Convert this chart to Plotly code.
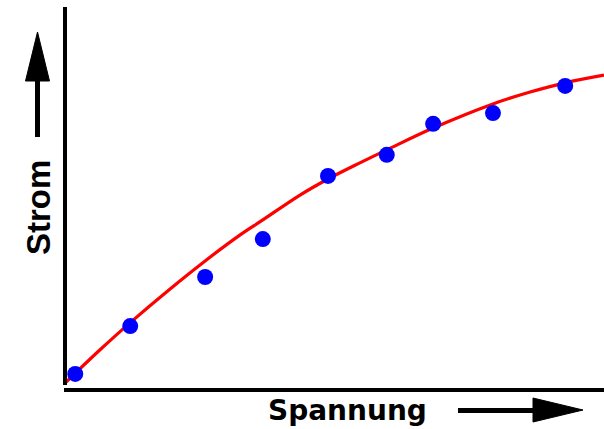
import plotly.graph_objects as go

# Measured points (Spannung, Strom) in arbitrary units
spannung = [0.19, 1.21, 2.60, 3.67, 4.88, 5.97, 6.83, 7.94, 9.28]
strom = [0.42, 1.67, 2.95, 3.94, 5.59, 6.14, 6.95, 7.23, 7.94]

# Fitted curve
kurve_x = [0.0, 0.65, 1.21, 1.95, 2.60, 3.25, 3.67, 4.36, 4.88, 5.47, 5.97, 6.83, 7.94, 8.63, 9.28, 10.0]
kurve_y = [0.18, 1.05, 1.76, 2.64, 3.37, 4.05, 4.44, 5.09, 5.51, 5.93, 6.27, 6.84, 7.47, 7.78, 8.02, 8.22]

W, H = 604, 429
L, R, T, B = 65, 0, 7, 39
pw, ph = W - L - R, H - T - B


def px(x):
    return (x - L) / pw


def py(y):
    return (H - B - y) / ph


fig = go.Figure()
fig.add_trace(go.Scatter(x=kurve_x, y=kurve_y, mode="lines",
                         line=dict(color="#ff0000", width=3.2, shape="spline"),
                         hoverinfo="skip"))
fig.add_trace(go.Scatter(x=spannung, y=strom, mode="markers",
                         marker=dict(color="#0000ff", size=16)))

shapes = [
    # axes
    dict(type="line", xref="paper", yref="paper", x0=0, x1=0, y0=py(385), y1=py(7),
         line=dict(color="black", width=4)),
    dict(type="line", xref="paper", yref="paper", x0=px(64), x1=px(604), y0=py(390), y1=py(390),
         line=dict(color="black", width=4)),
    # up arrow
    dict(type="line", xref="paper", yref="paper", x0=px(37.5), x1=px(37.5), y0=py(137), y1=py(78),
         line=dict(color="black", width=5)),
    dict(type="path", xref="paper", yref="paper",
         path=f"M {px(25.5)} {py(81)} L {px(49.5)} {py(81)} L {px(37.5)} {py(32)} Z",
         fillcolor="black", line=dict(color="black", width=1)),
    # right arrow
    dict(type="line", xref="paper", yref="paper", x0=px(458), x1=px(536), y0=py(410.5), y1=py(410.5),
         line=dict(color="black", width=5)),
    dict(type="path", xref="paper", yref="paper",
         path=f"M {px(533)} {py(398)} L {px(533)} {py(422)} L {px(583)} {py(410)} Z",
         fillcolor="black", line=dict(color="black", width=1)),
]

annotations = [
    dict(text="<b>Strom</b>", xref="paper", yref="paper", x=px(38), y=py(208),
         textangle=-90, showarrow=False, xanchor="center", yanchor="middle",
         font=dict(family="Liberation Sans, Arial, sans-serif", size=33, color="black")),
    dict(text="<b>Spannung</b>", xref="paper", yref="paper", x=px(347.5), y=py(410),
         showarrow=False, xanchor="center", yanchor="middle",
         font=dict(family="DejaVu Sans, sans-serif", size=28, color="black")),
]

fig.update_layout(
    width=W, height=H,
    margin=dict(l=L, r=R, t=T, b=B, pad=0),
    paper_bgcolor="white", plot_bgcolor="white",
    showlegend=False,
    xaxis=dict(range=[0, 10], showgrid=False, zeroline=False, showticklabels=False,
               showline=False, ticks=""),
    yaxis=dict(range=[0, 10], showgrid=False, zeroline=False, showticklabels=False,
               showline=False, ticks=""),
    shapes=shapes,
    annotations=annotations,
)

fig.write_html(
    "out.html",
    config={"displayModeBar": False},
    post_script="document.body.style.margin='0';document.body.style.padding='0';"
                "document.body.style.overflow='hidden';",
)
